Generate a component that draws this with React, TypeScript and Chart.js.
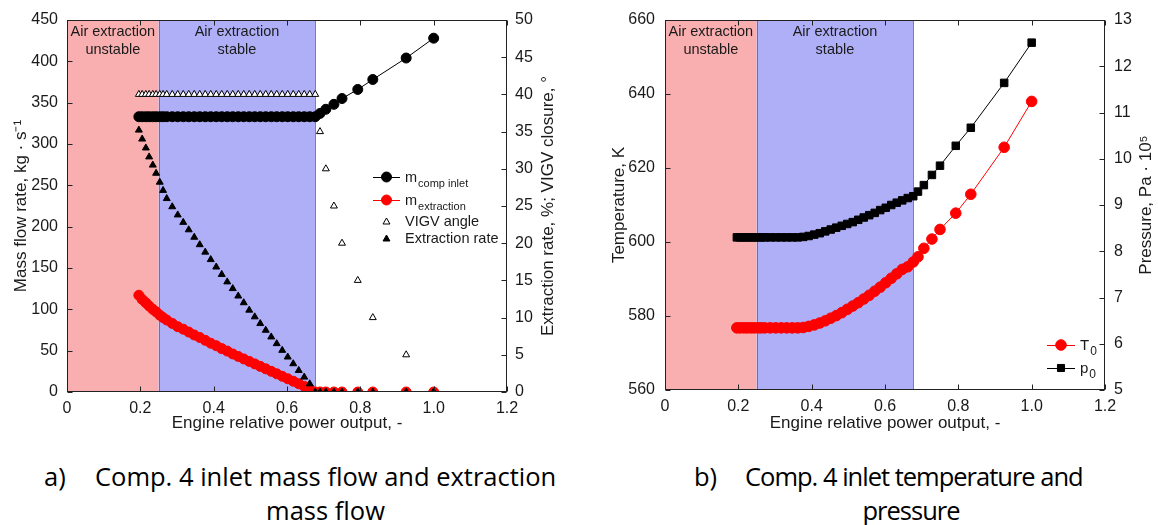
import React, { useEffect, useRef } from 'react';
import { Chart, registerables } from 'chart.js';

Chart.register(...registerables);

// ---------------- DATA ----------------
// Engine relative power output (shared x grid of both panels)
const powerOutput = [
  0.196, 0.205, 0.215, 0.224, 0.234, 0.243, 0.253, 0.262, 0.272, 0.287,
  0.302, 0.317, 0.332, 0.347, 0.362, 0.377, 0.392, 0.407, 0.422, 0.437,
  0.452, 0.467, 0.482, 0.497, 0.512, 0.527, 0.542, 0.557, 0.572, 0.587,
  0.602, 0.617, 0.632, 0.647, 0.662, 0.677, 0.69, 0.706, 0.728, 0.75,
  0.793, 0.834, 0.925, 1.0,
];

// Panel a) – left axis (kg/s)
const compInletFlow = [
  333, 333, 333, 333, 333, 333, 333, 333, 333, 333,
  333, 333, 333, 333, 333, 333, 333, 333, 333, 333,
  333, 333, 333, 333, 333, 333, 333, 333, 333, 333,
  333, 333, 333, 333, 333, 333, 337, 342, 348, 355,
  366, 378, 404, 428,
];
const extractionFlow = [
  117, 112, 108, 104, 100, 97, 93, 90, 87, 83,
  79, 76, 72.5, 69, 66, 62.5, 59, 56, 52.5, 49.5,
  46, 43, 40, 37, 34, 31, 28, 25, 22, 19,
  16, 13, 10, 6.8, 3.7, 0, 0, 0, 0, 0,
  0, 0, 0, 0,
];
// Panel a) – right axis (% and degrees)
const vigvAngle = [
  40, 40, 40, 40, 40, 40, 40, 40, 40, 40,
  40, 40, 40, 40, 40, 40, 40, 40, 40, 40,
  40, 40, 40, 40, 40, 40, 40, 40, 40, 40,
  40, 40, 40, 40, 40, 40, 35, 30, 25, 20,
  15, 10, 5, 0,
];
const extractionRate = [
  35.2, 34.0, 32.8, 31.6, 30.5, 29.4, 28.2, 27.1, 26.0, 24.9,
  23.8, 22.8, 21.8, 20.8, 19.8, 18.8, 17.8, 16.8, 15.8, 14.8,
  13.9, 12.9, 12.0, 11.0, 10.1, 9.2, 8.3, 7.4, 6.5, 5.6,
  4.7, 3.8, 2.9, 2.0, 1.1, 0, 0, 0, 0, 0,
  0, 0, 0, 0,
];

// Panel b)
const temperatureT0 = [
  576.8, 576.8, 576.8, 576.8, 576.8, 576.8, 576.8, 576.8, 576.8, 576.8,
  576.8, 576.8, 576.8, 576.8, 576.8, 576.9, 577.2, 577.6, 578.1, 578.7,
  579.4, 580.1, 580.9, 581.8, 582.7, 583.6, 584.6, 585.6, 586.7, 587.8,
  589.0, 590.2, 591.4, 592.6, 593.3, 594.6, 596.0, 598.3, 600.8, 603.4,
  607.8, 612.9, 625.6, 638.0,
];
const pressureP0 = [
  8.30, 8.30, 8.30, 8.30, 8.30, 8.30, 8.30, 8.30, 8.30, 8.30,
  8.30, 8.30, 8.30, 8.30, 8.30, 8.31, 8.33, 8.36, 8.39, 8.43,
  8.47, 8.51, 8.55, 8.59, 8.63, 8.68, 8.73, 8.78, 8.83, 8.89,
  8.94, 9.00, 9.05, 9.10, 9.15, 9.19, 9.29, 9.43, 9.65, 9.85,
  10.28, 10.67, 11.64, 12.51,
];

// Operating zones (x range)
const zoneBounds = [0, 0.25, 0.677];
const zoneLabels = [
  ['Air extraction', 'unstable'],
  ['Air extraction', 'stable'],
];

// Axes
const xAxisRange = [0, 1.2, 0.2];
const massAxisRange = [0, 450, 50];
const rateAxisRange = [0, 50, 5];
const tempAxisRange = [560, 660, 20];
const pressAxisRange = [5, 13, 1];

const xTitle = 'Engine relative power output, -';
const massTitle = 'Mass flow rate, kg · s⁻¹';
const rateTitle = 'Extraction rate, %; VIGV closure, °';
const tempTitle = 'Temperature, K';
const pressTitle = 'Pressure, Pa · 10⁵';

const legendA = [
  { main: 'm', sub: 'comp inlet', line: true, style: 'circle', fill: '#000', stroke: '#000', r: 5 },
  { main: 'm', sub: 'extraction', line: true, style: 'circle', fill: '#ff0000', stroke: '#ff0000', r: 5 },
  { main: 'VIGV angle', sub: '', line: false, style: 'triangle', fill: '#fff', stroke: '#000', r: 4 },
  { main: 'Extraction rate', sub: '', line: false, style: 'triangle', fill: '#000', stroke: '#000', r: 4 },
];
const legendB = [
  { main: 'T', sub: '0', line: true, style: 'circle', fill: '#ff0000', stroke: '#ff0000', r: 5.3 },
  { main: 'p', sub: '0', line: true, style: 'rect', fill: '#000', stroke: '#000', r: 5 },
];

const captionA = ['Comp. 4 inlet mass flow and extraction', 'mass flow'];
const captionB = ['Comp. 4 inlet temperature and', 'pressure'];

// ---------------- STYLE ----------------
const FONT = '"Liberation Sans", Arial, Helvetica, sans-serif';
const TEXT = '#1a1a1a';
const RED_ZONE = 'rgb(249,175,175)';
const BLUE_ZONE = 'rgb(175,175,247)';
const TITLE_SIZE = 17;

const pts = (ys: number[]) => powerOutput.map((x, i) => ({ x, y: ys[i] }));

function drawMarker(ctx: CanvasRenderingContext2D, style: string, x: number, y: number, r: number, fill: string, stroke: string) {
  ctx.beginPath();
  if (style === 'circle') {
    ctx.arc(x, y, r, 0, Math.PI * 2);
  } else if (style === 'rect') {
    const s = r * Math.SQRT1_2;
    ctx.rect(x - s, y - s, 2 * s, 2 * s);
  } else {
    const a = (2 * Math.PI) / 3;
    ctx.moveTo(x, y - r);
    ctx.lineTo(x + r * Math.sin(a), y - r * Math.cos(a));
    ctx.lineTo(x + r * Math.sin(2 * a), y - r * Math.cos(2 * a));
    ctx.closePath();
  }
  ctx.fillStyle = fill;
  ctx.fill();
  ctx.strokeStyle = stroke;
  ctx.lineWidth = 1;
  ctx.stroke();
}

type LegendCfg = {
  x0: number; x1: number; textX: number; rows: number[]; items: any[];
  mainSize: number; subSize: number; subDy: number; rightTitle: string; rightTitleX: number;
};

function makeDecor(yLeftId: string, yRightId: string, legend: LegendCfg) {
  return {
    id: 'decor',
    beforeDatasetsDraw(chart: any) {
      const { ctx, chartArea: a, scales } = chart;
      const xs = scales.x;
      const p = zoneBounds.map((v) => xs.getPixelForValue(v));
      ctx.save();
      ctx.fillStyle = RED_ZONE;
      ctx.fillRect(p[0], a.top, p[1] - p[0], a.bottom - a.top);
      ctx.fillStyle = BLUE_ZONE;
      ctx.fillRect(p[1], a.top, p[2] - p[1], a.bottom - a.top);
      ctx.strokeStyle = 'rgba(90,90,140,0.75)';
      ctx.lineWidth = 1;
      [p[1], p[2]].forEach((px) => {
        ctx.beginPath();
        ctx.moveTo(Math.round(px) + 0.5, a.top);
        ctx.lineTo(Math.round(px) + 0.5, a.bottom);
        ctx.stroke();
      });
      ctx.fillStyle = TEXT;
      ctx.font = `14.5px ${FONT}`;
      ctx.textAlign = 'center';
      ctx.textBaseline = 'middle';
      zoneLabels.forEach((lines, i) => {
        const cx = (p[i] + p[i + 1]) / 2;
        lines.forEach((t, j) => ctx.fillText(t, cx, a.top + 12 + j * 18));
      });
      ctx.restore();
    },
    afterDraw(chart: any) {
      const { ctx, chartArea: a, scales } = chart;
      const L = Math.round(a.left) + 0.5;
      const R = Math.round(a.right) - 0.5;
      const T = Math.round(a.top) + 0.5;
      const B = Math.round(a.bottom) - 0.5;
      ctx.save();
      ctx.strokeStyle = '#222';
      ctx.lineWidth = 1;
      ctx.strokeRect(L, T, R - L, B - T);
      const tl = 5;
      ctx.beginPath();
      scales.x.ticks.forEach((t: any) => {
        const px = Math.round(scales.x.getPixelForValue(t.value)) + 0.5;
        ctx.moveTo(px, B); ctx.lineTo(px, B - tl);
        ctx.moveTo(px, T); ctx.lineTo(px, T + tl);
      });
      scales[yLeftId].ticks.forEach((t: any) => {
        const py = Math.round(scales[yLeftId].getPixelForValue(t.value)) + 0.5;
        ctx.moveTo(L, py); ctx.lineTo(L + tl, py);
      });
      scales[yRightId].ticks.forEach((t: any) => {
        const py = Math.round(scales[yRightId].getPixelForValue(t.value)) + 0.5;
        ctx.moveTo(R, py); ctx.lineTo(R - tl, py);
      });
      ctx.stroke();

      // right axis title, reading bottom-to-top
      ctx.save();
      ctx.translate(legend.rightTitleX, (a.top + a.bottom) / 2);
      ctx.rotate(-Math.PI / 2);
      ctx.fillStyle = TEXT;
      ctx.font = `${TITLE_SIZE}px ${FONT}`;
      ctx.textAlign = 'center';
      ctx.textBaseline = 'middle';
      ctx.fillText(legend.rightTitle, 0, 0);
      ctx.restore();

      // legend
      legend.items.forEach((it: any, i: number) => {
        const y = legend.rows[i];
        const mx = (legend.x0 + legend.x1) / 2;
        if (it.line) {
          ctx.beginPath();
          ctx.strokeStyle = it.stroke;
          ctx.lineWidth = 1;
          ctx.moveTo(legend.x0, y + 0.5);
          ctx.lineTo(legend.x1, y + 0.5);
          ctx.stroke();
        }
        drawMarker(ctx, it.style, mx, y, it.r, it.fill, it.stroke);
        ctx.fillStyle = TEXT;
        ctx.textAlign = 'left';
        ctx.textBaseline = 'middle';
        ctx.font = `${legend.mainSize}px ${FONT}`;
        const isSub = !!it.sub;
        ctx.fillText(it.main, legend.textX, isSub ? y + 1 : y);
        if (isSub) {
          const w = ctx.measureText(it.main).width;
          ctx.font = `${legend.subSize}px ${FONT}`;
          ctx.fillText(it.sub, legend.textX + w + 1, y + legend.subDy);
        }
      });
      ctx.restore();
    },
  };
}

function baseScale(range: number[], position: string, width: number | null, height: number | null, title: string, titlePad: any, tickPad: number) {
  return {
    type: 'linear',
    position,
    min: range[0],
    max: range[1],
    ticks: { stepSize: range[2], padding: tickPad, color: TEXT, font: { family: FONT, size: 16 } },
    grid: { display: false, drawTicks: false },
    border: { display: false },
    title: { display: !!title, text: title, color: TEXT, font: { family: FONT, size: TITLE_SIZE }, padding: titlePad },
    afterFit: (s: any) => {
      if (width !== null) s.width = width;
      if (height !== null) s.height = height;
    },
  };
}

function ChartA() {
  const ref = useRef<HTMLCanvasElement>(null);
  useEffect(() => {
    const chart = new Chart(ref.current as HTMLCanvasElement, {
      type: 'scatter',
      data: {
        datasets: [
          {
            label: 'Extraction rate', data: pts(extractionRate), yAxisID: 'y1', showLine: false,
            pointStyle: 'triangle', pointRadius: 4, backgroundColor: '#000', borderColor: '#000', borderWidth: 1, order: 1,
          },
          {
            label: 'VIGV angle', data: pts(vigvAngle), yAxisID: 'y1', showLine: false,
            pointStyle: 'triangle', pointRadius: 4, backgroundColor: '#fff', borderColor: '#000', borderWidth: 1, order: 2,
          },
          {
            label: 'm comp inlet', data: pts(compInletFlow), yAxisID: 'y', showLine: true,
            pointStyle: 'circle', pointRadius: 5, backgroundColor: '#000', borderColor: '#000', borderWidth: 1, order: 3,
          },
          {
            label: 'm extraction', data: pts(extractionFlow), yAxisID: 'y', showLine: true,
            pointStyle: 'circle', pointRadius: 5, backgroundColor: '#ff0000', borderColor: '#ff0000', borderWidth: 1, order: 4,
          },
        ],
      } as any,
      options: {
        animation: false,
        responsive: false,
        layout: { padding: { top: 20, left: 0, right: 0, bottom: 0 } },
        plugins: { legend: { display: false }, tooltip: { enabled: false } },
        scales: {
          x: baseScale(xAxisRange, 'bottom', null, 48, xTitle, { top: 0, bottom: 6 }, 7),
          y: baseScale(massAxisRange, 'left', 67, null, massTitle, { top: 11, bottom: 0 }, 9),
          y1: baseScale(rateAxisRange, 'right', 73, null, '', { top: 0, bottom: 0 }, 8),
        } as any,
      },
      plugins: [makeDecor('y', 'y1', {
        x0: 373, x1: 400, textX: 405, rows: [177, 200, 222, 239], items: legendA, mainSize: 14.5, subSize: 11, subDy: 7,
        rightTitle: rateTitle, rightTitleX: 548,
      })],
    });
    return () => chart.destroy();
  }, []);
  return <canvas ref={ref} width={580} height={440} style={{ position: 'absolute', left: 0, top: 0 }} />;
}

function ChartB() {
  const ref = useRef<HTMLCanvasElement>(null);
  useEffect(() => {
    const chart = new Chart(ref.current as HTMLCanvasElement, {
      type: 'scatter',
      data: {
        datasets: [
          {
            label: 'T0', data: pts(temperatureT0), yAxisID: 'y', showLine: true,
            pointStyle: 'circle', pointRadius: 5.3, backgroundColor: '#ff0000', borderColor: '#ff0000', borderWidth: 1,
          },
          {
            label: 'p0', data: pts(pressureP0), yAxisID: 'y1', showLine: true,
            pointStyle: 'rect', pointRadius: 5.3, backgroundColor: '#000', borderColor: '#000', borderWidth: 1,
          },
        ],
      } as any,
      options: {
        animation: false,
        responsive: false,
        layout: { padding: { top: 20, left: 0, right: 0, bottom: 0 } },
        plugins: { legend: { display: false }, tooltip: { enabled: false } },
        scales: {
          x: baseScale(xAxisRange, 'bottom', null, 50, xTitle, { top: 0, bottom: 6 }, 7),
          y: baseScale(tempAxisRange, 'left', 85, null, tempTitle, { top: 29, bottom: 0 }, 10),
          y1: baseScale(pressAxisRange, 'right', 53, null, '', { top: 0, bottom: 0 }, 9),
        } as any,
      },
      plugins: [makeDecor('y', 'y1', {
        x0: 467, x1: 495, textX: 500, rows: [345, 368], items: legendB, mainSize: 15, subSize: 12, subDy: 7,
        rightTitle: pressTitle, rightTitleX: 566,
      })],
    });
    return () => chart.destroy();
  }, []);
  return <canvas ref={ref} width={578} height={440} style={{ position: 'absolute', left: 580, top: 0 }} />;
}

const capFont: React.CSSProperties = {
  position: 'absolute',
  fontFamily: '"Open Sans", "Noto Sans", sans-serif',
  fontSize: 25.5,
  fontWeight: 400,
  lineHeight: '34px',
  color: '#000',
  whiteSpace: 'nowrap',
};

export default function App() {
  return (
    <div style={{ position: 'absolute', left: 0, top: 0, width: 1158, height: 525, background: '#fff', overflow: 'hidden' }}>
      <ChartA />
      <ChartB />
      <div style={{ ...capFont, left: 44, top: 459 }}>a)</div>
      <div style={{ ...capFont, left: 95, top: 459, width: 461, textAlign: 'center' }}>
        {captionA[0]}<br />{captionA[1]}
      </div>
      <div style={{ ...capFont, left: 694, top: 459 }}>b)</div>
      <div style={{ ...capFont, left: 745, top: 459, width: 332, textAlign: 'center', letterSpacing: '-1px' }}>
        {captionB[0]}<br />{captionB[1]}
      </div>
    </div>
  );
}
